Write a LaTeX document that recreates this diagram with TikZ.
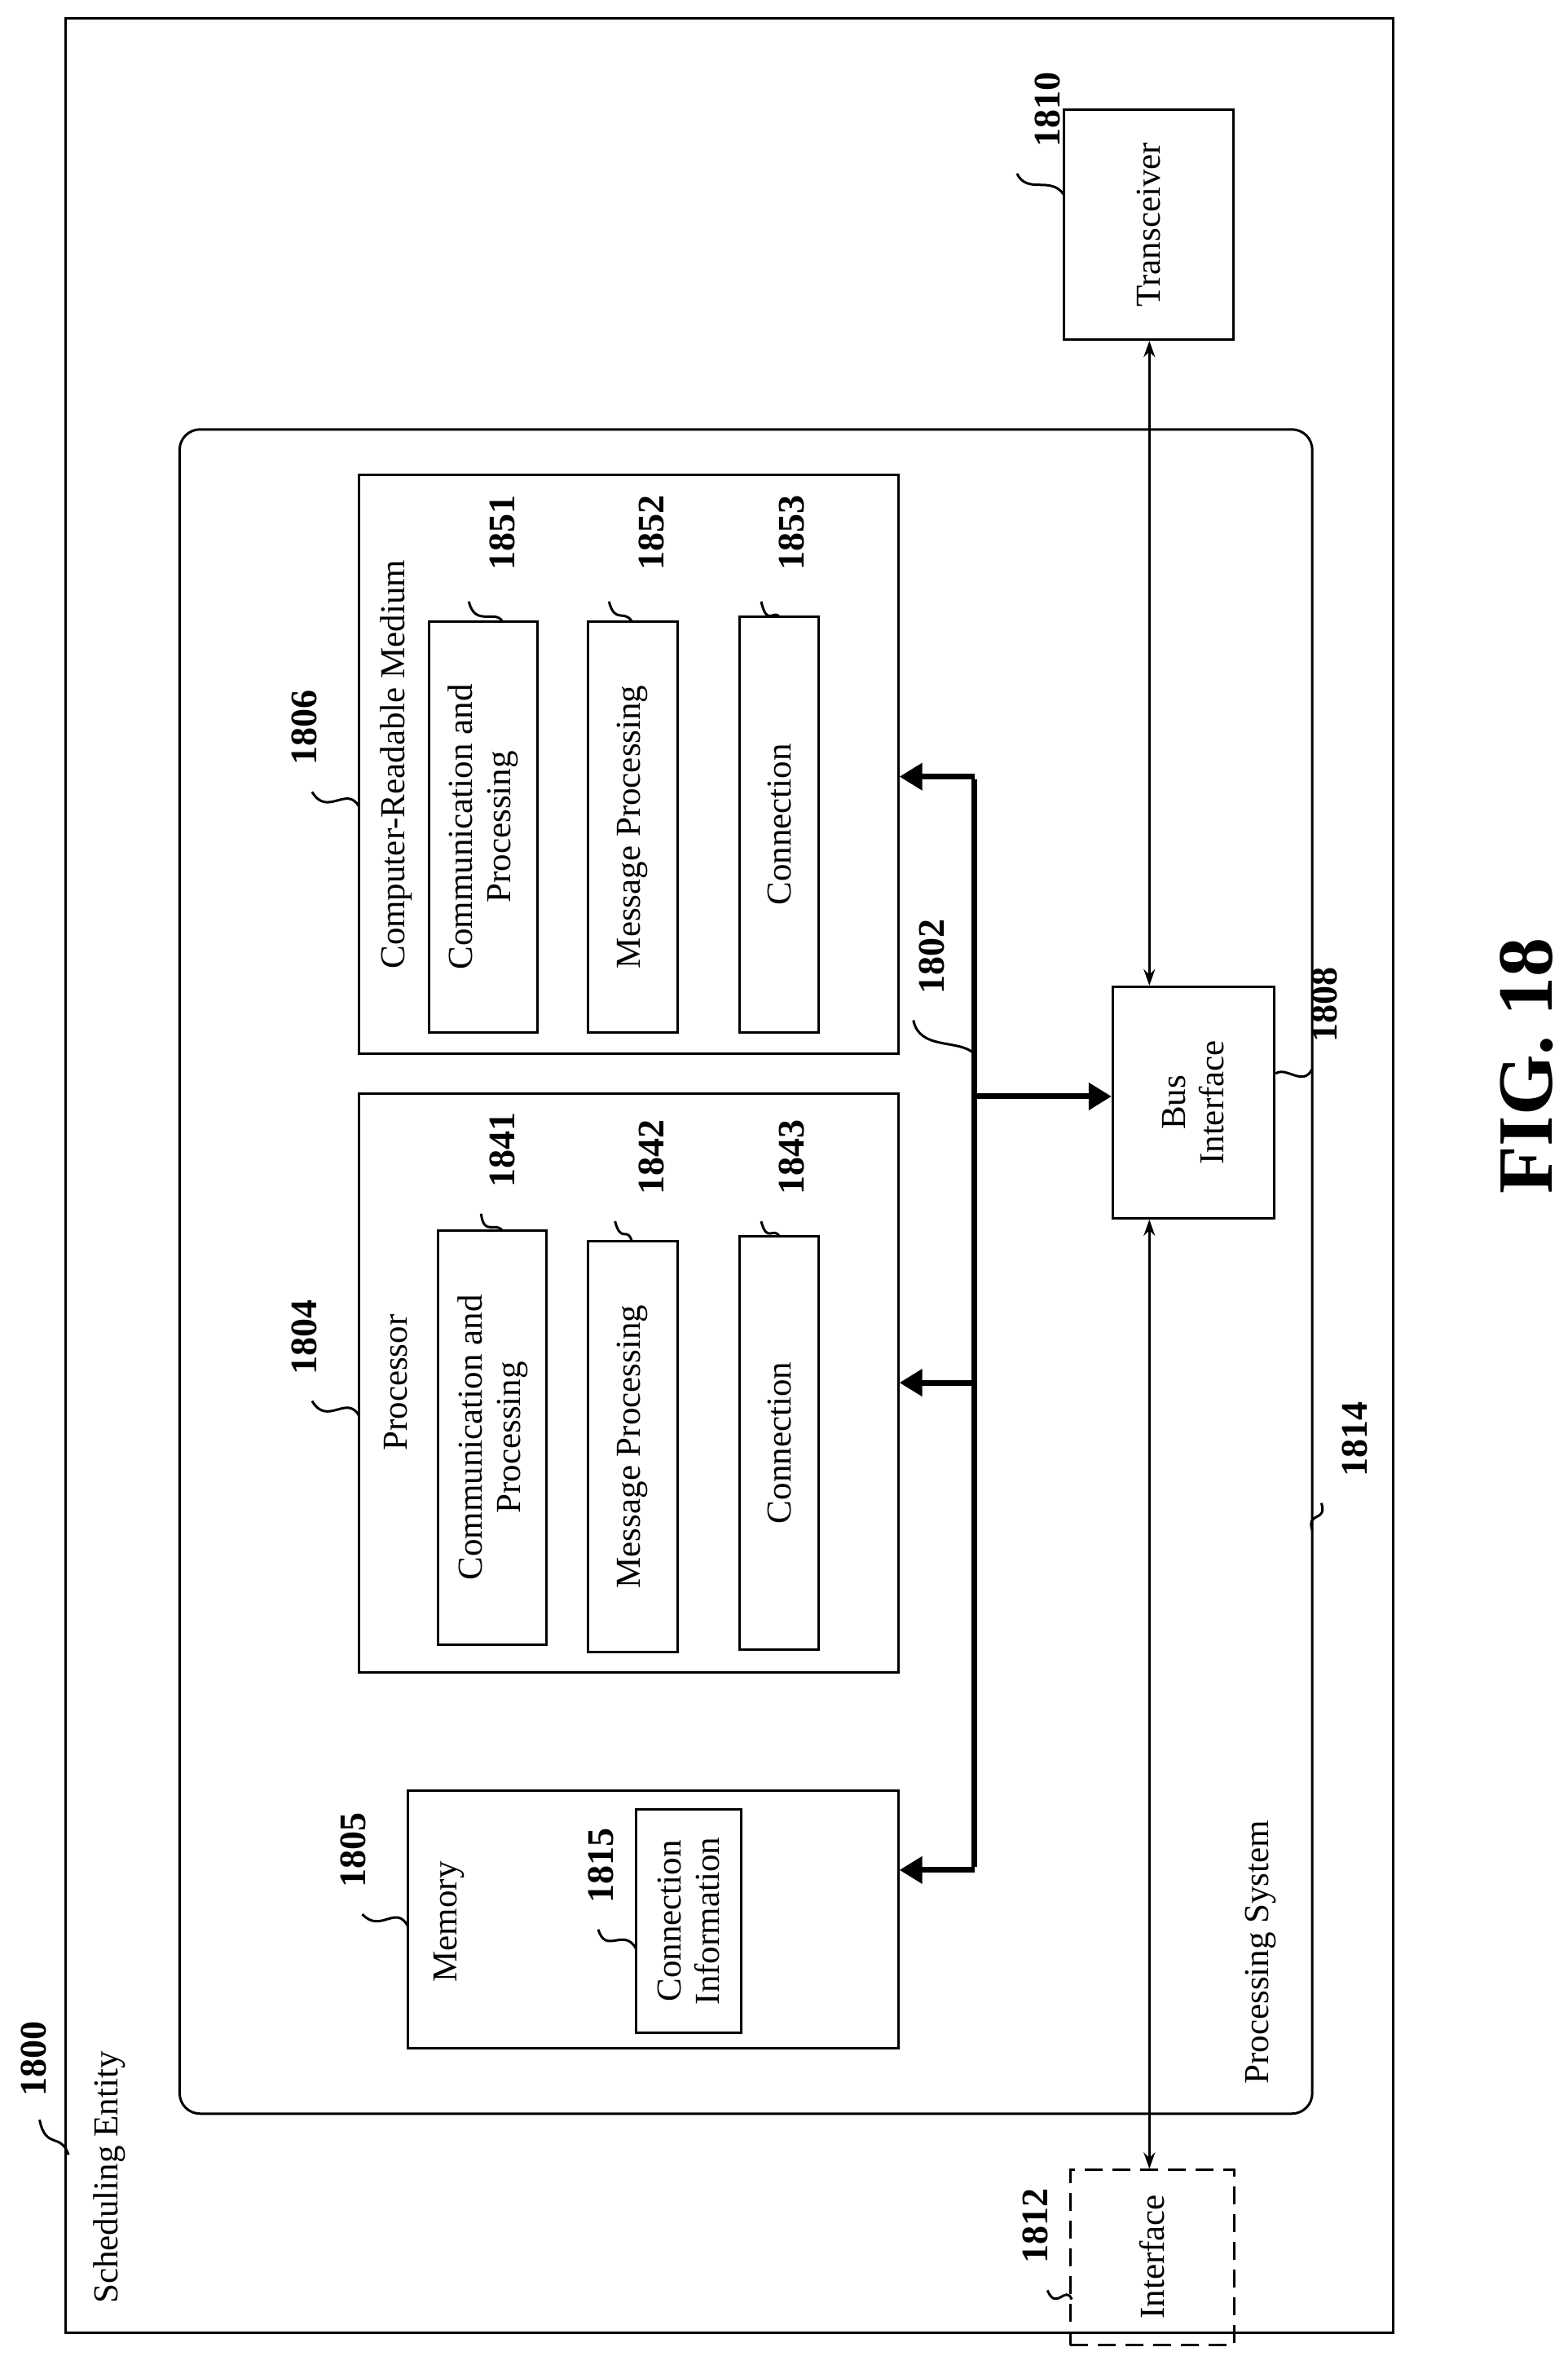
\documentclass[tikz,border=0pt]{standalone}
\usepackage{fontspec}
\setmainfont{Liberation Serif}
\usetikzlibrary{fit,arrows.meta}
\begin{document}
\begin{tikzpicture}[x=1.868pt,y=-1.868pt,
 box/.style={draw,line width=3pt,inner sep=0pt},
 txt/.style={rotate=90,font=\fontsize{43}{47}\selectfont,align=center},
 num/.style={rotate=90,font=\fontsize{46}{48}\selectfont\bfseries},
 lead/.style={line width=3pt},
 dbl/.style={line width=3pt,{Stealth[length=20pt,width=14pt]}-{Stealth[length=20pt,width=14pt]}},
 bus/.style={line width=7pt},
 busarr/.style={line width=7pt,-{Triangle[length=28pt,width=32pt]}}]
\useasboundingbox (0,0) rectangle (1030,1561.6);
\node[box,fit={(43,12) (915,1532)}] (se) {};
\node[box,rounded corners=25pt,fit={(118,282) (862,1388)}] (ps) {};
\node[box,fit={(699,72) (810,223)}] (tr) {};
\node[txt] at (tr.center) {Transceiver};
\node[box,dashed,dash pattern=on 22pt off 12pt,fit={(703,1425) (811,1540)}] (if) {};
\node[txt] at (757,1482) {Interface};
\node[box,fit={(731,648) (837,800)}] (bi) {};
\node[txt] at (bi.center) {Bus\\Interface};
\node[box,fit={(236,312) (590,692)}] (crm) {};
\node[txt] at (260,502) {Computer-Readable Medium};
\node[box,fit={(282,408) (353,678)}] (c1) {};
\node[txt] at (c1.center) {Communication and\\Processing};
\node[box,fit={(386,408) (445,678)}] (c2) {};
\node[txt] at (c2.center) {Message Processing};
\node[box,fit={(486,405) (538,678)}] (c3) {};
\node[txt] at (c3.center) {Connection};
\node[box,fit={(236,718) (590,1098)}] (pr) {};
\node[txt] at (260,908) {Processor};
\node[box,fit={(288,808) (359,1080)}] (p1) {};
\node[txt] at (p1.center) {Communication and\\Processing};
\node[box,fit={(386,815) (445,1085)}] (p2) {};
\node[txt] at (p2.center) {Message Processing};
\node[box,fit={(486,812) (538,1083)}] (p3) {};
\node[txt] at (p3.center) {Connection};
\node[box,fit={(268,1176) (590,1345)}] (me) {};
\node[txt] at (295,1262) {Memory};
\node[box,fit={(418,1188) (487,1335)}] (m1) {};
\node[txt] at (m1.center) {Connection\\Information};
\node[txt] at (72,1430) {Scheduling Entity};
\node[txt] at (828,1282) {Processing System};
\node[rotate=90,font=\fontsize{96}{100}\selectfont\bfseries] at (1003,700) {FIG. 18};
\coordinate (b1) at (640,510); \coordinate (b2) at (640,908); \coordinate (b3) at (640,1228);
\coordinate (b4) at (640,720);
\draw[bus] ([yshift=-3.5pt]b1) -- ([yshift=3.5pt]b3);
\draw[busarr] (b1) -- (crm.east |- b1);
\draw[busarr] (b2) -- (pr.east |- b2);
\draw[busarr] (b3) -- (me.east |- b3);
\draw[busarr] (b4) -- (bi.west |- b4);
\draw[dbl] (tr.south -| 755,0) -- (bi.north -| 755,0);
\draw[dbl] (bi.south -| 755,0) -- (if.north -| 755,0);
\node[num] (l1800) at (22,1352) {1800};
\draw[lead] (26,1392) .. controls (30,1412) and (40,1400) .. (45,1415);
\node[num] (l1810) at (688,72) {1810};
\draw[lead] (668,114) .. controls (675,128) and (690,115) .. (699,128);
\node[num] (l1814) at (890,945) {1814};
\draw[lead] (868,987) .. controls (872,1000) and (858,992) .. (862,1005);
\node[num] (l1806) at (200,478) {1806};
\draw[lead] (205,520) .. controls (215,537) and (228,515) .. (236,530);
\node[num] (l1804) at (200,878) {1804};
\draw[lead] (205,920) .. controls (215,937) and (228,915) .. (236,930);
\node[num] (l1805) at (232,1215) {1805};
\draw[lead] (238,1257) .. controls (250,1270) and (260,1250) .. (268,1265);
\node[num] (l1815) at (395,1225) {1815};
\draw[lead] (393,1267) .. controls (398,1284) and (410,1265) .. (418,1280);
\node[num] (l1851) at (330,350) {1851};
\draw[lead] (308,395) .. controls (312,412) and (325,400) .. (330,408);
\node[num] (l1852) at (428,350) {1852};
\draw[lead] (400,395) .. controls (404,410) and (410,400) .. (415,408);
\node[num] (l1853) at (520,350) {1853};
\draw[lead] (500,395) .. controls (504,412) and (508,400) .. (512,405);
\node[num] (l1841) at (330,755) {1841};
\draw[lead] (316,797) .. controls (318,812) and (325,802) .. (330,808);
\node[num] (l1842) at (428,760) {1842};
\draw[lead] (404,802) .. controls (408,817) and (412,805) .. (415,815);
\node[num] (l1843) at (520,760) {1843};
\draw[lead] (500,802) .. controls (504,817) and (508,805) .. (512,812);
\node[num] (l1802) at (612,628) {1802};
\draw[lead] (600,670) .. controls (604,690) and (630,682) .. (640,692);
\node[num] (l1808) at (870,660) {1808};
\draw[lead] (862,702) .. controls (856,714) and (845,700) .. (838,705);
\node[num] (l1812) at (680,1462) {1812};
\draw[lead] (688,1504) .. controls (694,1518) and (700,1500) .. (704,1510);
\end{tikzpicture}
\end{document}
